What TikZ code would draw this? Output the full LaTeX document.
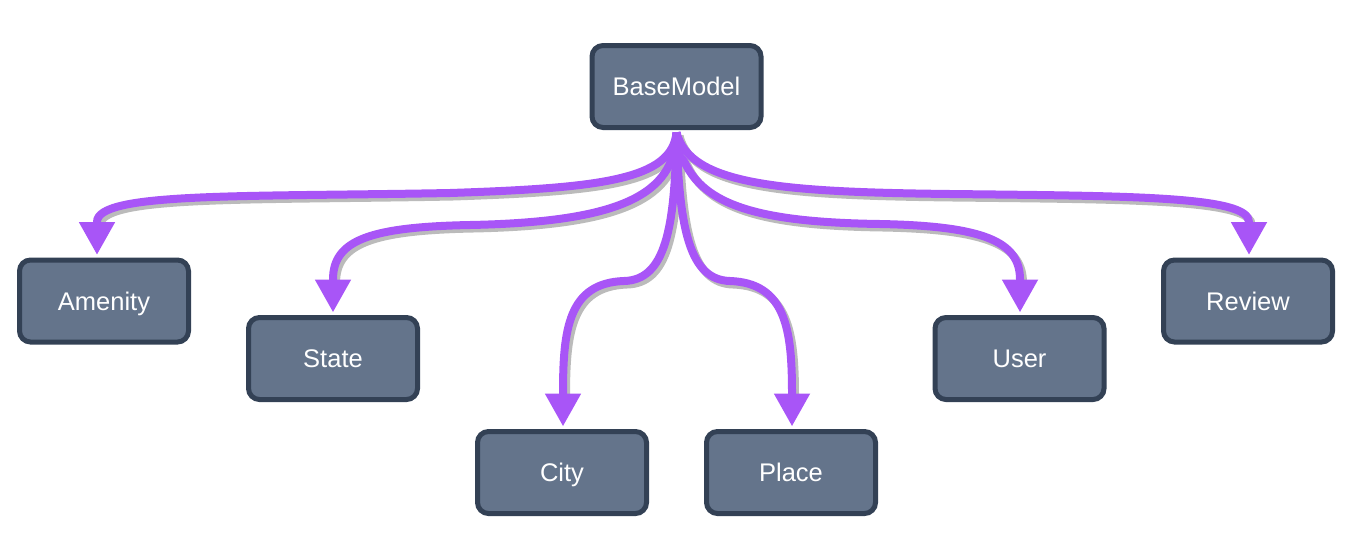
\documentclass[tikz,border=0pt]{standalone}
\usepackage{fontspec}
\setmainfont{Liberation Sans}
\usetikzlibrary{arrows.meta,calc}
\definecolor{boxfill}{HTML}{64748B}
\definecolor{boxline}{HTML}{334155}
\definecolor{edgecol}{HTML}{A855F7}
\definecolor{shadowcol}{HTML}{BBBBBB}
\begin{document}
\begin{tikzpicture}[x=1pt,y=-1pt,
  cls/.style={draw=boxline, line width=5pt, fill=boxfill, rounded corners=11pt,
    minimum width=169pt, minimum height=82pt, inner sep=0pt, text=white,
    text height=18pt, text depth=0pt,
    font=\fontsize{25.5}{30}\selectfont},
  link/.style={draw=edgecol, line width=8pt, -{Triangle[length=33pt,width=34pt]},
    preaction={draw=shadowcol, line width=8pt, -, shorten >=33pt,
      transform canvas={shift={(3,3.5)}}}}]
\useasboundingbox (0,0) rectangle (1362,552);
\node[cls] (base) at (676.5,86.5) {BaseModel};
\node[cls] (amenity) at (104,301) {Amenity};
\node[cls] (state) at (333,358.5) {State};
\node[cls] (city) at (562,472.5) {City};
\node[cls] (place) at (791,472.5) {Place};
\node[cls] (user) at (1019.5,358.5) {User};
\node[cls] (review) at (1248,301) {Review};
\coordinate (src) at ($(base.south)+(0,2.5)$);
\path[link] (src) .. controls (672,180) and (600,188) .. (450,193)
  .. controls (240,197) and (97,192) .. ($(amenity.north)+(-7,-35.5)$) -- ($(amenity.north)+(-7,-2.5)$);
\path[link] (src) .. controls (675,195) and (620,222) .. (470,225)
  .. controls (370,227) and (333,240) .. ($(state.north)+(0,-35.5)$) -- ($(state.north)+(0,-2.5)$);
\path[link] (src) .. controls (675,230) and (665,280) .. (624,281)
  .. controls (568,283) and (563,330) .. ($(city.north)+(1,-35.5)$) -- ($(city.north)+(1,-2.5)$);
\path[link] (src) .. controls (679,230) and (690,280) .. (730,281)
  .. controls (786,283) and (792,330) .. ($(place.north)+(1,-35.5)$) -- ($(place.north)+(1,-2.5)$);
\path[link] (src) .. controls (685,200) and (740,222) .. (880,224)
  .. controls (985,226) and (1020,242) .. ($(user.north)+(0.5,-35.5)$) -- ($(user.north)+(0.5,-2.5)$);
\path[link] (src) .. controls (690,185) and (780,192) .. (950,194)
  .. controls (1130,196) and (1249,196) .. ($(review.north)+(1,-35.5)$) -- ($(review.north)+(1,-2.5)$);
\end{tikzpicture}
\end{document}
